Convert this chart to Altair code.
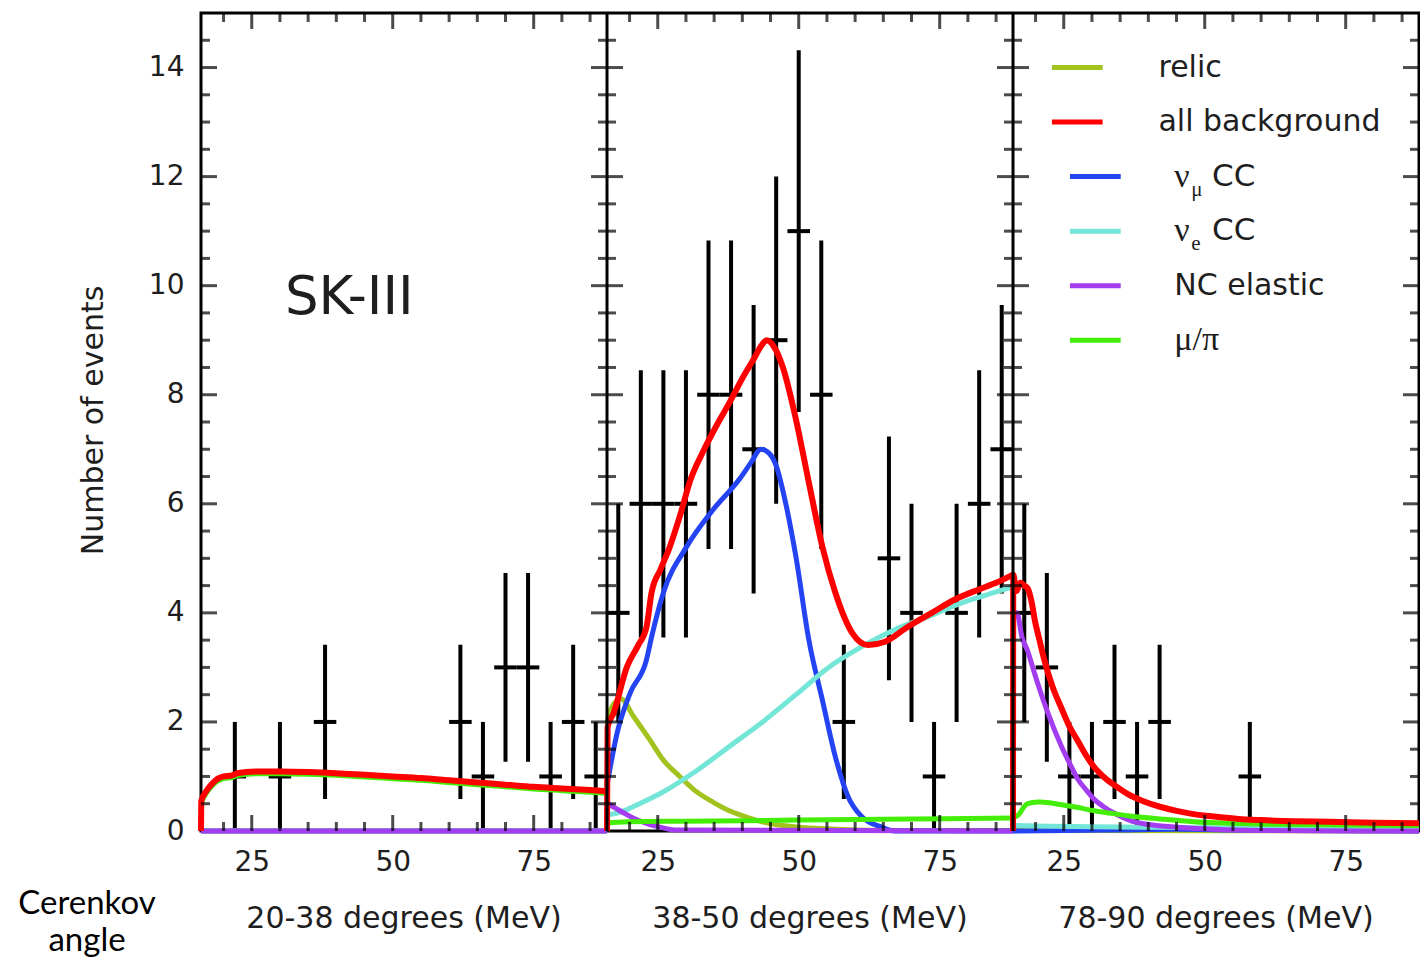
import math
import altair as alt
import pandas as pd

# ------------------------------------------------------------------ data
E_MIN = 16          # every panel runs from 16 to 88 MeV
PANEL_SPAN = 72
panel_titles = ["20-38 degrees (MeV)", "38-50 degrees (MeV)", "78-90 degrees (MeV)"]
x_label_values = [25, 50, 75]
x_tick_values = [20, 25, 30, 35, 40, 45, 50, 55, 60, 65, 70, 75, 80, 85]
y_label_values = [0, 2, 4, 6, 8, 10, 12, 14]
y_tick_values = [0.5, 1, 1.5, 2, 2.5, 3, 3.5, 4, 4.5, 5, 5.5, 6, 6.5, 7, 7.5, 8, 8.5,
                 9, 9.5, 10, 10.5, 11, 11.5, 12, 12.5, 13, 13.5, 14, 14.5]

bin_centers = [18, 22, 26, 30, 34, 38, 42, 46, 50, 54, 58, 62, 66, 70, 74, 78, 82, 86]
bin_half_width = 2
counts_p1 = [0, 1, 0, 1, 0, 2, 0, 0, 0, 0, 0, 2, 1, 3, 3, 1, 2, 1]
counts_p2 = [4, 6, 6, 6, 8, 8, 7, 9, 11, 8, 2, 0, 5, 4, 1, 4, 6, 7]
counts_p3 = [4, 3, 1, 1, 2, 1, 2, 0, 0, 0, 1, 0, 0, 0, 0, 0, 0, 0]

# relic
relic_p1_e = [16, 88]
relic_p1_v = [0.0, 0.0]
relic_p2_e = [16, 17, 18.5, 20.7, 23.6, 26, 28.9, 31.5, 34.8, 37.5, 40.6, 43.5, 46.5, 50, 55, 60, 70, 88]
relic_p2_v = [2.0, 2.3, 2.42, 2.1, 1.67, 1.3, 1.0, 0.75, 0.53, 0.38, 0.26, 0.17, 0.11, 0.07, 0.04, 0.02, 0.01, 0.01]
relic_p3_e = [16, 88]
relic_p3_v = [0.01, 0.0]

# nu_mu CC
numu_p1_e = [16, 88]
numu_p1_v = [0.0, 0.0]
numu_p2_e = [16.1, 17.8, 20.1, 23, 24, 26, 30.1, 34.8, 39.4, 41.5, 43.3, 44.5, 46, 47.5, 49.5,
             51.8, 54.2, 56.5, 58.8, 61.2, 64.7, 67, 88]
numu_p2_v = [0.9, 1.8, 2.53, 3.14, 3.6, 4.37, 5.21, 5.89, 6.44, 6.75, 7.0, 6.95, 6.7, 6.1, 5.03,
             3.5, 2.4, 1.36, 0.62, 0.26, 0.07, 0.0, 0.0]
numu_p3_e = [16, 25, 35, 45, 55, 65, 88]
numu_p3_v = [0.0, 0.01, 0.02, 0.03, 0.02, 0.01, 0.0]

# nu_e CC
nue_p1_e = [16, 88]
nue_p1_v = [0.0, 0.0]
nue_p2_e = [16.5, 17.8, 20.1, 23, 26, 31.8, 37.7, 43.6, 49.5, 55.3, 61.2, 67, 72.9, 78.8, 84.6, 88]
nue_p2_v = [0.3, 0.33, 0.42, 0.56, 0.72, 1.1, 1.55, 2.0, 2.5, 3.0, 3.38, 3.69, 3.93, 4.18, 4.37, 4.48]
nue_p3_e = [16, 20, 30, 50, 70, 88]
nue_p3_v = [0.1, 0.09, 0.08, 0.06, 0.05, 0.05]

# NC elastic
nc_p1_e = [16, 88]
nc_p1_v = [0.0, 0.0]
nc_p2_e = [16.1, 17.5, 19, 20.6, 23, 25, 28, 88]
nc_p2_v = [0.5, 0.42, 0.33, 0.24, 0.14, 0.08, 0.02, 0.0]
nc_p3_e = [16, 16.1, 16.7, 17.6, 18.6, 19.5, 20.4, 22.2, 24.6, 26, 27.5, 29, 30.4, 32, 33.9,
           35.5, 37.4, 40, 45, 50, 60, 88]
nc_p3_v = [0.0, 3.9, 4.0, 3.55, 3.3, 3.0, 2.7, 2.16, 1.55, 1.25, 0.95, 0.75, 0.58, 0.45, 0.33,
           0.25, 0.17, 0.12, 0.07, 0.04, 0.01, 0.0]

# mu / pi
mupi_p1_e = [16, 16.05, 17, 18, 19, 20, 21.5, 22.5, 24, 26, 30, 35, 40, 45, 50, 55, 60, 65, 70, 75, 80, 85, 88]
mupi_p1_v = [0.0, 0.5, 0.7, 0.83, 0.92, 0.96, 0.98, 1.02, 1.04, 1.05, 1.05, 1.04, 1.02, 0.99,
             0.96, 0.93, 0.89, 0.85, 0.81, 0.77, 0.74, 0.71, 0.69]
mupi_p2_e = [16, 16.3, 20, 30, 40, 50, 60, 70, 80, 88]
mupi_p2_v = [0.0, 0.15, 0.17, 0.18, 0.19, 0.2, 0.21, 0.22, 0.23, 0.24]
mupi_p3_e = [16, 17, 18, 18.6, 20.4, 22.5, 24.6, 27.5, 30.4, 33, 36.3, 42.2, 48, 55, 65, 75, 88]
mupi_p3_v = [0.25, 0.3, 0.45, 0.5, 0.53, 0.52, 0.48, 0.43, 0.37, 0.33, 0.28, 0.22, 0.17, 0.14, 0.12, 0.11, 0.1]

# all background
bg_p1_e = [16, 16.05, 17, 18, 19, 20, 21.5, 22.5, 24, 26, 30, 35, 40, 45, 50, 55, 60, 65, 70, 75, 80, 85, 88]
bg_p1_v = [0.0, 0.55, 0.74, 0.87, 0.96, 1.0, 1.02, 1.06, 1.08, 1.09, 1.09, 1.08, 1.06, 1.03,
           1.0, 0.97, 0.93, 0.89, 0.85, 0.81, 0.78, 0.75, 0.73]
bg_p2_e = [16, 16.1, 17.2, 19.5, 21.5, 23, 23.9, 25.5, 27.1, 29, 30.8, 33, 35.5, 37.7, 40, 42,
           43.5, 44.3, 45.5, 47.2, 49.4, 51.7, 54.2, 56.5, 59.5, 62.3, 65.3, 69.3, 73.6, 77.6,
           81.7, 85, 88]
bg_p2_v = [0.0, 1.9, 2.17, 3.0, 3.4, 3.74, 4.37, 4.8, 5.2, 5.8, 6.44, 6.95, 7.45, 7.85, 8.3,
           8.65, 8.92, 9.0, 8.9, 8.5, 7.6, 6.44, 5.21, 4.37, 3.63, 3.41, 3.47, 3.74, 4.0, 4.24,
           4.42, 4.55, 4.7]
bg_p3_e = [16, 16.05, 16.6, 17.3, 18, 18.6, 19.3, 19.9, 20.7, 21.6, 23, 24.6, 26, 27.5, 29,
           30.4, 32, 34, 36.3, 39, 42.2, 45, 48, 52, 56, 60, 66, 72, 80, 88]
bg_p3_v = [0.0, 4.7, 4.4, 4.55, 4.5, 4.45, 4.2, 3.85, 3.5, 3.12, 2.65, 2.25, 1.92, 1.65, 1.38,
           1.17, 1.0, 0.84, 0.68, 0.55, 0.44, 0.37, 0.31, 0.26, 0.22, 0.2, 0.18, 0.17, 0.15, 0.14]

series_order = ["relic", "numu", "nue", "nc", "mupi", "bg"]
series_colors = {"relic": "#a2c21e", "numu": "#2444f4", "nue": "#74e6d8",
                 "nc": "#a43cf0", "mupi": "#44ee08", "bg": "#ff0000"}
series_width = {"relic": 5, "numu": 5, "nue": 5, "nc": 5, "mupi": 5, "bg": 6}
curves = {
    "relic": [(relic_p1_e, relic_p1_v), (relic_p2_e, relic_p2_v), (relic_p3_e, relic_p3_v)],
    "numu": [(numu_p1_e, numu_p1_v), (numu_p2_e, numu_p2_v), (numu_p3_e, numu_p3_v)],
    "nue": [(nue_p1_e, nue_p1_v), (nue_p2_e, nue_p2_v), (nue_p3_e, nue_p3_v)],
    "nc": [(nc_p1_e, nc_p1_v), (nc_p2_e, nc_p2_v), (nc_p3_e, nc_p3_v)],
    "mupi": [(mupi_p1_e, mupi_p1_v), (mupi_p2_e, mupi_p2_v), (mupi_p3_e, mupi_p3_v)],
    "bg": [(bg_p1_e, bg_p1_v), (bg_p2_e, bg_p2_v), (bg_p3_e, bg_p3_v)],
}

# legend (rows at y = 14 ... 9, x in MeV of the third panel)
legend_series = ["relic", "bg", "numu", "nue", "nc", "mupi"]
legend_y = [14, 13, 12, 11, 10, 9]
legend_line_x0 = [22.9, 22.9, 26.1, 26.1, 26.1, 26.1]
legend_line_x1 = [31.9, 31.9, 35.1, 35.1, 35.1, 35.1]
legend_main = ["relic", "all background", "ν", "ν", "NC elastic", "μ/π"]
legend_main_serif = [False, False, True, True, False, True]
legend_main_x = [41.8, 41.8, 44.6, 44.6, 44.6, 44.6]
legend_sub = ["", "", "μ", "e", "", ""]
legend_sub_x = 47.6
legend_tail = ["", "", "CC", "CC", "", ""]
legend_tail_x = 51.3

sk_label = "SK-III"
sk_label_e = 42.3
sk_label_y = 9.78

caption_lines = ["Cerenkov", "angle"]

# ------------------------------------------------------------------ tables
def gx(panel, e):
    return panel * PANEL_SPAN + (e - E_MIN)

pts = []
for p, cnts in enumerate([counts_p1, counts_p2, counts_p3]):
    for e, n in zip(bin_centers, cnts):
        if n > 0:
            err = math.sqrt(n)
            pts.append({"gx": gx(p, e), "gxl": gx(p, e - bin_half_width),
                        "gxr": gx(p, e + bin_half_width), "n": n,
                        "lo": n - err, "hi": n + err})
pts = pd.DataFrame(pts)

crow = []
for s in series_order:
    for p, (es, vs) in enumerate(curves[s]):
        for i, (e, v) in enumerate(zip(es, vs)):
            crow.append({"series": s, "panel": p, "idx": i, "gx": gx(p, e), "val": v})
cdf = pd.DataFrame(crow)

yt = pd.DataFrame([{"y": v, "major": (v % 2 == 0)} for v in y_tick_values])
xt = pd.DataFrame([{"gx": gx(p, e), "major": e in x_label_values}
                   for p in range(3) for e in x_tick_values])
seps = pd.DataFrame({"gx": [PANEL_SPAN, 2 * PANEL_SPAN], "y0": [0, 0], "y1": [15, 15]})

leg_lines = pd.DataFrame({"s": legend_series, "y": legend_y,
                          "x0": [gx(2, v) for v in legend_line_x0],
                          "x1": [gx(2, v) for v in legend_line_x1]})
leg_txt = pd.DataFrame({"y": legend_y, "txt": legend_main, "serif": legend_main_serif,
                        "gx": [gx(2, v) for v in legend_main_x]})
leg_sub = pd.DataFrame({"y": legend_y, "txt": legend_sub, "gx": gx(2, legend_sub_x)})
leg_sub = leg_sub[leg_sub.txt != ""]
leg_tail = pd.DataFrame({"y": legend_y, "txt": legend_tail, "gx": gx(2, legend_tail_x)})
leg_tail = leg_tail[leg_tail.txt != ""]

titles_df = pd.DataFrame({"gx": [gx(p, 52) for p in range(3)], "txt": panel_titles})

# ------------------------------------------------------------------ chart
W, H = 1218, 818
FONT = "DejaVu Sans"
SERIF = "Liberation Serif"
TXT = "#1e1e1e"
xs = alt.Scale(domain=[0, 3 * PANEL_SPAN], nice=False, zero=False)
ys = alt.Scale(domain=[0, 15], nice=False, zero=False)

label_vals = [gx(p, e) for p in range(3) for e in x_label_values]
xaxis = alt.Axis(values=label_vals, labelExpr="format((datum.value % 72) + 16, 'd')",
                 ticks=False, tickSize=0, domain=False, grid=False, title=None,
                 labelFont=FONT, labelFontSize=28, labelColor=TXT, labelPadding=31,
                 labelBaseline="middle", labelFlush=False)
yaxis = alt.Axis(values=y_label_values, ticks=False, tickSize=0, domain=False, grid=False,
                 labelFont=FONT, labelFontSize=28, labelColor=TXT, labelPadding=17,
                 title="Number of events", titleFont=FONT, titleFontSize=30,
                 titleFontWeight="normal", titleColor=TXT, titleX=-108, titleY=407,
                 titleAngle=270, titleAlign="center", titleBaseline="middle")


def X(field):
    return alt.X(field, scale=xs, axis=xaxis)


def Y(field):
    return alt.Y(field, scale=ys, axis=yaxis)


layers = []
# error bars
layers.append(alt.Chart(pts).mark_rule(color="black", strokeWidth=4).encode(
    x=X("gx:Q"), y=Y("lo:Q"), y2="hi:Q"))
layers.append(alt.Chart(pts).mark_rule(color="black", strokeWidth=4).encode(
    x=X("gxl:Q"), x2="gxr:Q", y=Y("n:Q")))

# curves
for s in series_order:
    layers.append(alt.Chart(cdf[cdf.series == s]).mark_line(
        color=series_colors[s], strokeWidth=series_width[s], strokeJoin="round",
        interpolate="monotone").encode(
        x=X("gx:Q"), y=Y("val:Q"), detail="panel:N", order="idx:Q"))

# panel separators
layers.append(alt.Chart(seps).mark_rule(color="black", strokeWidth=3).encode(
    x=X("gx:Q"), y=Y("y0:Q"), y2="y1:Q"))


# frame ticks (inward)
def ytick(gxv, major, size, off):
    d = yt[yt.major == major].assign(gx=gxv)
    return alt.Chart(d).mark_tick(orient="horizontal", color="black", thickness=3,
                                  size=size, xOffset=off).encode(x=X("gx:Q"), y=Y("y:Q"))


for major, L in [(True, 16), (False, 9)]:
    layers.append(ytick(0, major, L, L / 2))
    layers.append(ytick(PANEL_SPAN, major, 2 * L, 0))
    layers.append(ytick(2 * PANEL_SPAN, major, 2 * L, 0))
    layers.append(ytick(3 * PANEL_SPAN, major, L, -L / 2))


def xtick(yv, major, size, off):
    d = xt[xt.major == major].assign(y=yv)
    return alt.Chart(d).mark_tick(orient="vertical", color="black", thickness=3,
                                  size=size, yOffset=off).encode(x=X("gx:Q"), y=Y("y:Q"))


for major, L in [(True, 16), (False, 9)]:
    layers.append(xtick(15, major, L, L / 2))
    layers.append(xtick(0, major, L, -L / 2))

# legend
for s in legend_series:
    layers.append(alt.Chart(leg_lines[leg_lines.s == s]).mark_rule(
        color=series_colors[s], strokeWidth=5).encode(
        x=X("x0:Q"), x2="x1:Q", y=Y("y:Q")))
layers.append(alt.Chart(leg_txt[~leg_txt.serif]).mark_text(
    font=FONT, fontSize=30, align="left", baseline="middle", color=TXT).encode(
    x=X("gx:Q"), y=Y("y:Q"), text="txt:N"))
layers.append(alt.Chart(leg_txt[leg_txt.serif]).mark_text(
    font=SERIF, fontSize=34, align="left", baseline="middle", color=TXT).encode(
    x=X("gx:Q"), y=Y("y:Q"), text="txt:N"))
layers.append(alt.Chart(leg_sub).mark_text(
    font=SERIF, fontSize=21, align="left", baseline="middle", color=TXT, dy=13).encode(
    x=X("gx:Q"), y=Y("y:Q"), text="txt:N"))
layers.append(alt.Chart(leg_tail).mark_text(
    font=FONT, fontSize=31, align="left", baseline="middle", color=TXT).encode(
    x=X("gx:Q"), y=Y("y:Q"), text="txt:N"))

# SK-III label
sk_df = pd.DataFrame({"gx": [gx(0, sk_label_e)], "y": [sk_label_y], "txt": [sk_label]})
layers.append(alt.Chart(sk_df).mark_text(
    font=FONT, fontSize=53, align="center", baseline="middle", color=TXT).encode(
    x=X("gx:Q"), y=Y("y:Q"), text="txt:N"))

# panel x titles
layers.append(alt.Chart(titles_df).mark_text(
    font=FONT, fontSize=30, align="center", baseline="middle", color=TXT).encode(
    x=X("gx:Q"), y=alt.value(906), text="txt:N"))

# outer caption (two lines, placed one under the other)
cap1 = pd.DataFrame({"txt": [caption_lines[0]]})
cap2 = pd.DataFrame({"txt": [caption_lines[1]]})
layers.append(alt.Chart(cap1).mark_text(
    font="Lato", fontSize=33, align="center", baseline="middle", color="black").encode(
    x=alt.value(-114), y=alt.value(891), text="txt:N"))
layers.append(alt.Chart(cap2).mark_text(
    font="Lato", fontSize=33, align="center", baseline="middle", color="black").encode(
    x=alt.value(-114), y=alt.value(928), text="txt:N"))

chart = alt.layer(*layers).properties(
    width=W, height=H,
    autosize=alt.AutoSizeParams(type="none"),
    padding={"left": 201, "top": 13, "right": 1, "bottom": 130},
    background="white",
).configure_view(stroke="black", strokeWidth=3)

chart.save("out.html", embed_options={"renderer": "svg", "actions": False})
